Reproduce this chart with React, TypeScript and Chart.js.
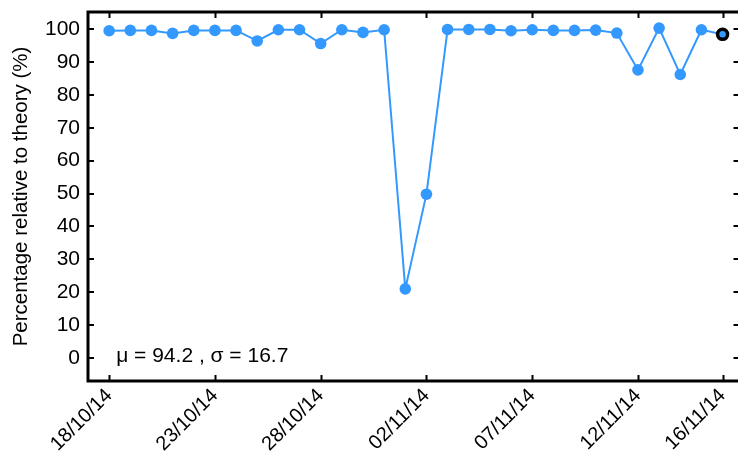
import React, { useEffect, useRef } from "react";
import { Chart, registerables } from "chart.js";

Chart.register(...registerables);

const dates: string[] = [
  "18/10/14", "19/10/14", "20/10/14", "21/10/14", "22/10/14", "23/10/14",
  "24/10/14", "25/10/14", "26/10/14", "27/10/14", "28/10/14", "29/10/14",
  "30/10/14", "31/10/14", "01/11/14", "02/11/14", "03/11/14", "04/11/14",
  "05/11/14", "06/11/14", "07/11/14", "08/11/14", "09/11/14", "10/11/14",
  "11/11/14", "12/11/14", "13/11/14", "14/11/14", "15/11/14", "16/11/14",
];
const values: number[] = [
  99.5, 99.6, 99.6, 98.7, 99.6, 99.6, 99.6, 96.4, 99.8, 99.8,
  95.6, 99.8, 99.0, 99.8, 21.0, 49.8, 99.9, 99.9, 99.9, 99.5,
  99.8, 99.6, 99.6, 99.7, 98.8, 87.6, 100.3, 86.2, 99.8, 98.4,
];
const xTickIndices: number[] = [0, 5, 10, 15, 20, 25, 29];
const yTickValues: number[] = [0, 10, 20, 30, 40, 50, 60, 70, 80, 90, 100];
const yTitle = "Percentage relative to theory (%)";
const statsText = "μ = 94.2 , σ = 16.7";
const highlightIndex = 29;

const FONT = "'Liberation Sans', Arial, Helvetica, sans-serif";
const BLUE = "#3399ff";

export default function App() {
  const ref = useRef<HTMLCanvasElement | null>(null);

  useEffect(() => {
    if (!ref.current) return;
    const points = values.map((v, i) => ({ x: i, y: v }));

    const framePlugin = {
      id: "frame",
      afterDraw(chart: any) {
        const ctx = chart.ctx as CanvasRenderingContext2D;
        const { left, right, top, bottom } = chart.chartArea;
        const xs = chart.scales.x;
        const ys = chart.scales.y;
        ctx.save();
        ctx.strokeStyle = "#000";
        ctx.lineWidth = 2;
        const tl = 6;
        ctx.beginPath();
        xTickIndices.forEach((i) => {
          const px = Math.round(xs.getPixelForValue(i)) + 0.5;
          ctx.moveTo(px, bottom);
          ctx.lineTo(px, bottom - tl);
          ctx.moveTo(px, top);
          ctx.lineTo(px, top + tl);
        });
        yTickValues.forEach((v) => {
          const py = Math.round(ys.getPixelForValue(v));
          ctx.moveTo(left, py);
          ctx.lineTo(left + tl, py);
          ctx.moveTo(right, py);
          ctx.lineTo(right - tl, py);
        });
        ctx.stroke();
        ctx.lineWidth = 3;
        ctx.strokeRect(left, top, right - left, bottom - top);
        ctx.fillStyle = "#000";
        ctx.font = `21px ${FONT}`;
        ctx.textAlign = "left";
        ctx.textBaseline = "alphabetic";
        ctx.fillText(statsText, xs.getPixelForValue(0) + 7, ys.getPixelForValue(0) + 4);
        ctx.restore();
      },
    };

    const chart = new Chart(ref.current, {
      type: "line",
      data: {
        datasets: [
          {
            data: points,
            borderColor: BLUE,
            backgroundColor: BLUE,
            borderWidth: 2,
            pointRadius: values.map((_, i) => (i === highlightIndex ? 5 : 5.8)),
            pointBackgroundColor: BLUE,
            pointBorderColor: values.map((_, i) => (i === highlightIndex ? "#000" : BLUE)),
            pointBorderWidth: values.map((_, i) => (i === highlightIndex ? 3.5 : 0)),
            tension: 0,
          },
        ],
      },
      plugins: [framePlugin],
      options: {
        animation: false,
        responsive: false,
        maintainAspectRatio: false,
        layout: { padding: { top: 12, right: 5, left: 0, bottom: 0 } },
        plugins: { legend: { display: false }, tooltip: { enabled: false } },
        scales: {
          x: {
            type: "linear",
            min: -1,
            max: 29.8,
            border: { display: false },
            grid: { display: false, drawTicks: false },
            afterBuildTicks: (scale: any) => {
              scale.ticks = xTickIndices.map((v) => ({ value: v }));
            },
            afterFit: (scale: any) => {
              scale.height = 74;
              scale.paddingLeft = 0;
              scale.paddingRight = 0;
            },
            ticks: {
              autoSkip: false,
              minRotation: 45,
              maxRotation: 45,
              padding: 3,
              color: "#000",
              font: { family: FONT, size: 20 },
              callback: (v: any) => dates[Number(v)] ?? "",
            },
          },
          y: {
            min: -7,
            max: 105.2,
            border: { display: false },
            grid: { display: false, drawTicks: false },
            afterBuildTicks: (scale: any) => {
              scale.ticks = yTickValues.map((v) => ({ value: v }));
            },
            afterFit: (scale: any) => {
              scale.width = 88;
              scale.paddingTop = 0;
              scale.paddingBottom = 0;
            },
            title: {
              display: true,
              text: yTitle,
              color: "#000",
              font: { family: FONT, size: 20.5 },
              padding: { top: 9, bottom: 0 },
            },
            ticks: {
              padding: 8,
              color: "#000",
              font: { family: FONT, size: 21 },
            },
          },
        },
      },
    } as any);
    return () => chart.destroy();
  }, []);

  return (
    <div style={{ position: "fixed", left: 0, top: 0, width: 738, height: 455, overflow: "hidden", background: "#fff" }}>
      <canvas ref={ref} width={748} height={455} style={{ display: "block" }} />
    </div>
  );
}
